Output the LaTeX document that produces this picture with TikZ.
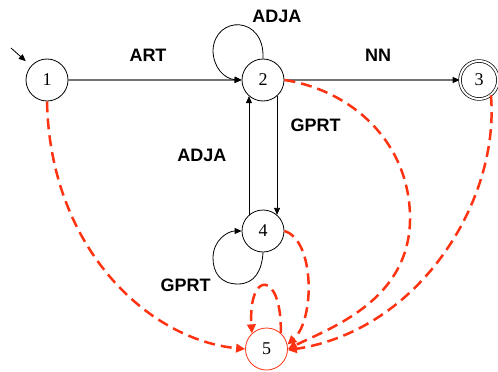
\documentclass[tikz,border=0pt]{standalone}
\usepackage{fontspec}
\setmainfont{Liberation Serif}
\setsansfont{Liberation Sans}
\usetikzlibrary{arrows.meta}
\definecolor{redorange}{RGB}{255,50,18}
\tikzset{
  state/.style={circle, draw=black, line width=0.8pt, minimum size=42pt, inner sep=0pt,
    font=\fontsize{18}{20}\selectfont},
  accept/.style={state, minimum size=38pt, double, double distance=2pt, line width=0.7pt},
  redstate/.style={state, draw=redorange},
  lbl/.style={font=\sffamily\bfseries\fontsize{18}{20}\selectfont, inner sep=0pt},
  blackedge/.style={line width=0.8pt, -{Triangle[length=7pt,width=6pt]}},
  grayedge/.style={draw=black!55, line width=1.4pt, -{Triangle[length=7pt,width=6pt,color=black]}},
  rededge/.style={draw=redorange, line width=2.5pt, dash pattern=on 11pt off 6pt,
    -{Triangle[length=9pt,width=8.5pt]}},
}
\begin{document}
\begin{tikzpicture}[x=1pt,y=-1pt]
\useasboundingbox (0,0) rectangle (498,372);
\node[state] (n1) at (47,80) {1};
\node[state] (n2) at (263,80) {2};
\node[accept] (n3) at (479,80) {3};
\node[state] (n4) at (263,231) {4};
\node[redstate] (n5) at (266.5,349) {5};

\node[lbl] (lart) at (148,55.5) {ART};
\node[lbl] (lnn) at (378,55.5) {NN};
\node[lbl] (ladjatop) at (277,16.5) {ADJA};
\node[lbl] (lgprtr) at (315.5,125) {GPRT};
\node[lbl] (ladjal) at (202,155) {ADJA};
\node[lbl] (lgprtl) at (185.5,285) {GPRT};

\coordinate (init) at (11,48);
\draw[blackedge, shorten >=7pt] (init) -- (n1);
\draw[grayedge] (n1) -- (n2);
\draw[grayedge] (n2) -- (n3);

% loop on 2
\draw[blackedge] (n2.north) .. controls (265,15) and (215,15) .. (213,50)
  .. controls (213,68) and (225,79) .. (n2.west);
% loop on 4
\draw[blackedge] (n4.south) .. controls (262,270) and (255,284) .. (238,284)
  .. controls (220,284) and (213,272) .. (213,258)
  .. controls (213,240) and (228,231) .. (n4.west);
% verticals
\draw[blackedge] (n2.-49) -- (n4.49);
\draw[blackedge] (n4.131) -- (n2.-131);

% red edges
\draw[rededge] (n1.south) .. controls (50,250) and (150,340) .. (n5.west);
\draw[rededge] (n2.east) .. controls (350,90) and (408,140) .. (410,215)
  .. controls (412,300) and (330,328) .. (n5.east);
\draw[rededge] (n3.-52) .. controls (500,200) and (420,330) .. (n5.-3);
\draw[rededge] (n4.east) .. controls (315,240) and (315,320) .. (n5.12);
\draw[rededge] (n5.48) .. controls (282,270) and (248,270) .. (n5.133);
\end{tikzpicture}
\end{document}
